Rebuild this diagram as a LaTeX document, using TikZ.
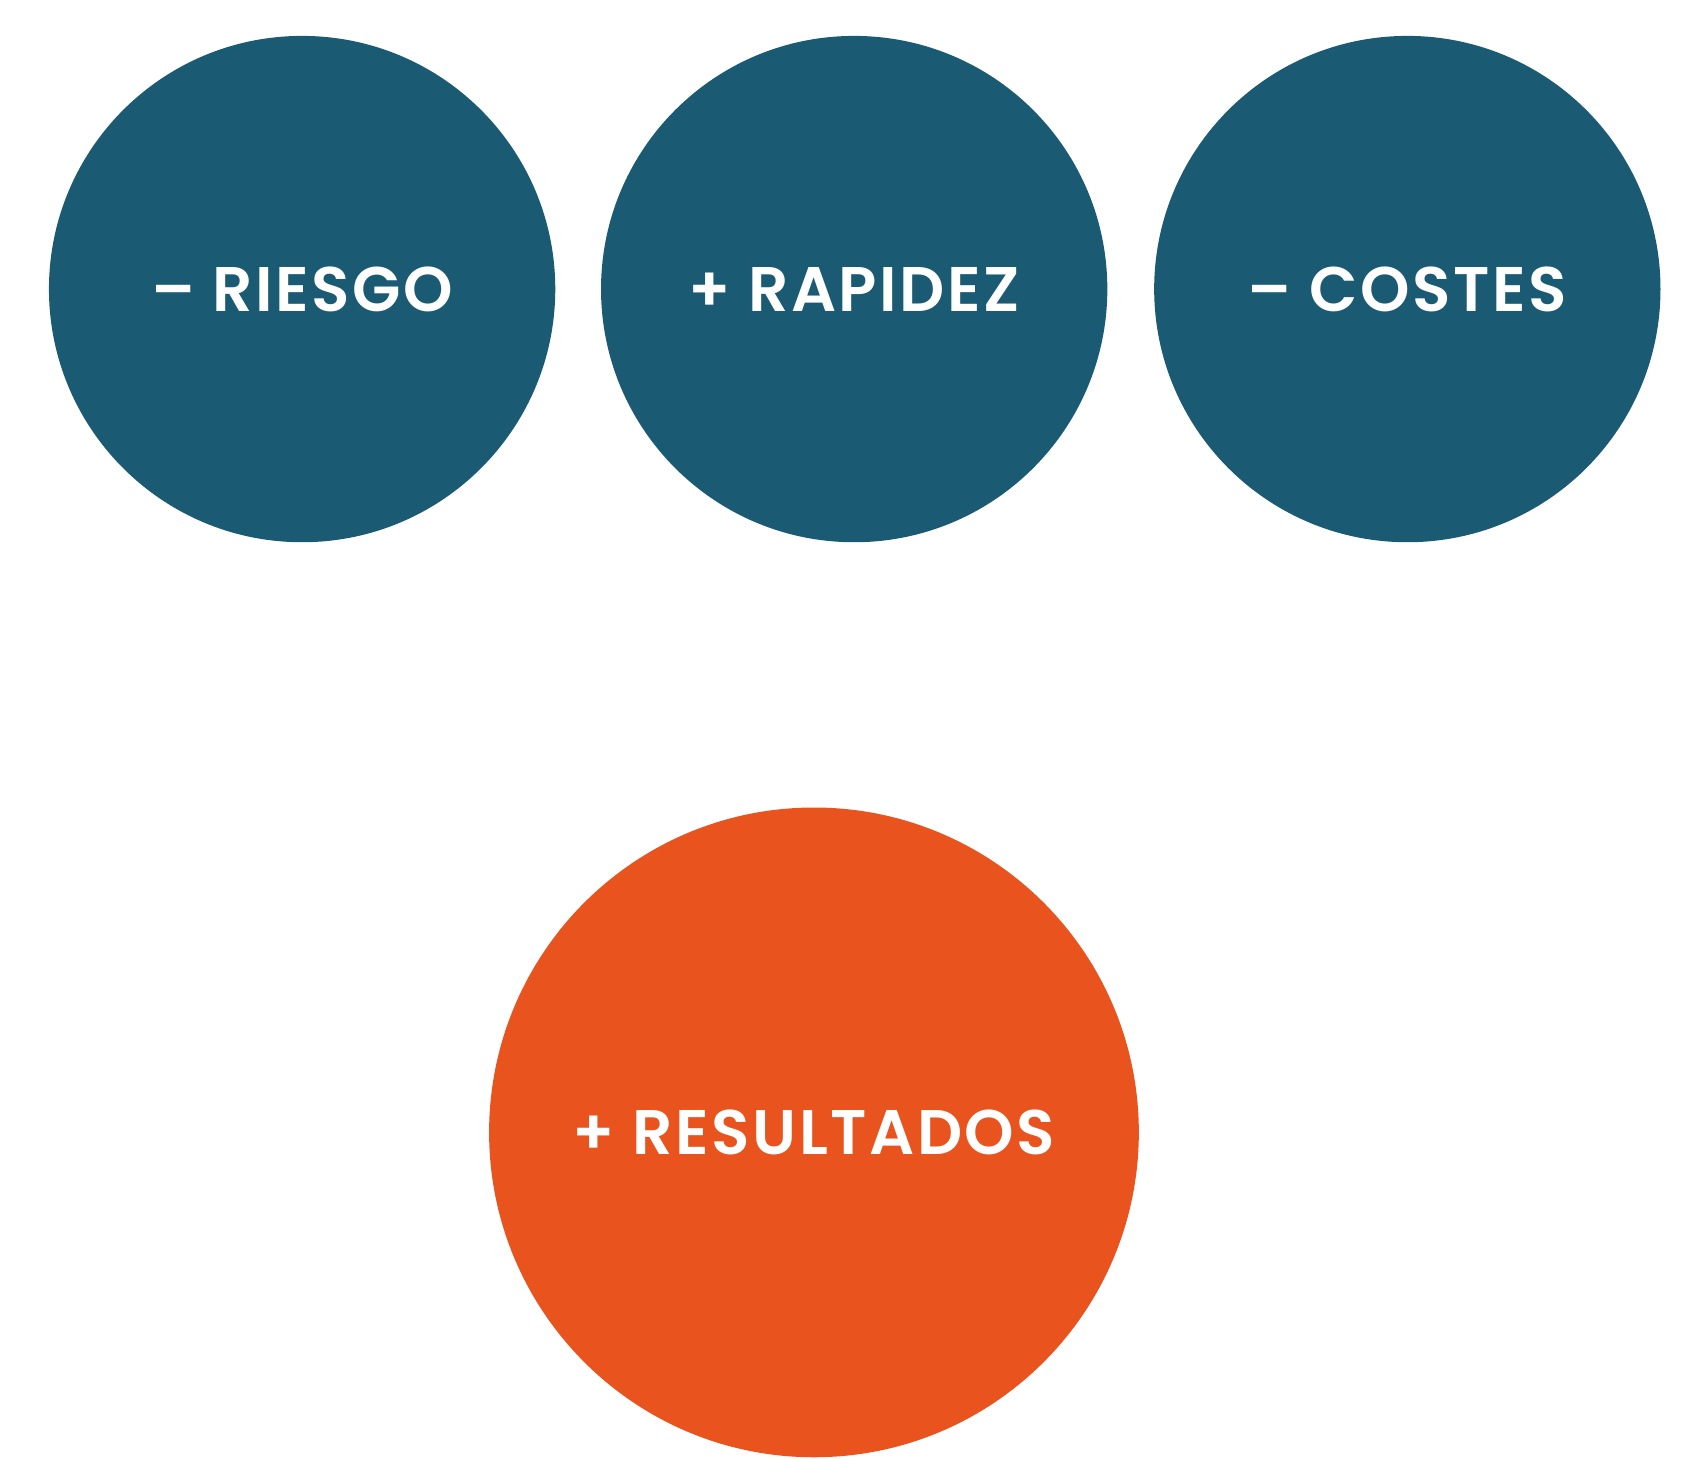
\documentclass[tikz,border=0pt]{standalone}
\usepackage{fontspec}
\setmainfont{Poppins}[UprightFont=* SemiBold]
\definecolor{blu}{HTML}{1A5A73}
\definecolor{ora}{HTML}{E8531E}
\begin{document}
\begin{tikzpicture}[x=0.02cm,y=-0.02cm,
  lab/.style={text=white,font=\fontsize{33}{36}\selectfont\addfontfeatures{LetterSpace=4}},
  bub/.style={circle,fill=blu,minimum size=9.32cm,inner sep=0pt}]
\useasboundingbox (0,0) rectangle (1568,1342);
\node[bub] (a) at (278,266) {};
\node[bub] (b) at (786,266) {};
\node[bub] (c) at (1295,266) {};
\node[bub,fill=ora,minimum size=11.96cm] (d) at (749,1042) {};
\node[lab] at (a) {– RIESGO};
\node[lab] at (b) {+ RAPIDEZ};
\node[lab] at (c) {– COSTES};
\node[lab] at (d) {+ RESULTADOS};
\end{tikzpicture}
\end{document}
